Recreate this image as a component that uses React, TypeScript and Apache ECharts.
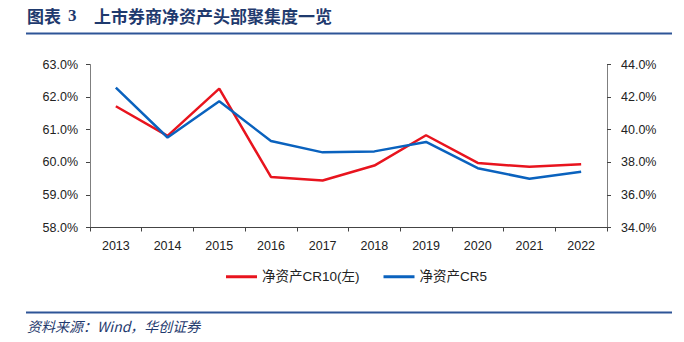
import React, { useEffect, useRef } from "react";
import * as echarts from "echarts";

const years = ["2013", "2014", "2015", "2016", "2017", "2018", "2019", "2020", "2021", "2022"];
const cr10 = [61.72, 60.81, 62.26, 59.55, 59.44, 59.9, 60.83, 59.98, 59.86, 59.94];
const cr5 = [42.58, 39.52, 41.74, 39.31, 38.61, 38.67, 39.25, 37.64, 36.99, 37.42];
const seriesNames = ["净资产CR10(左)", "净资产CR5"];
const titleLabel = "图表";
const titleNumber = "3";
const titleText = "上市券商净资产头部聚集度一览";
const sourceText = "资料来源：Wind，华创证券";

export default function App() {
  const ref = useRef<HTMLDivElement>(null);
  useEffect(() => {
    const chart = echarts.init(ref.current!, null, { renderer: "svg" });
    const navy = "#1F3A6E";
    const lineBlue = "#2E5597";
    const axisColor = "#7F7F7F";
    const labelFont = { color: "#222", fontSize: 12.5, fontFamily: "Liberation Sans, Arial, sans-serif" };
    chart.setOption({
      animation: false,
      backgroundColor: "#fff",
      grid: { left: 90, right: 77, top: 64.5, bottom: 114.5 },
      legend: {
        left: 226,
        top: 270,
        padding: 0,
        itemWidth: 31,
        itemHeight: 3,
        itemGap: 24,
        icon: "rect",
        textStyle: { color: "#222", fontSize: 13.5, fontFamily: "Liberation Sans, Noto Sans CJK SC, sans-serif" },
        data: seriesNames,
      },
      xAxis: {
        type: "category",
        data: years,
        boundaryGap: true,
        axisLine: { lineStyle: { color: "#444", width: 1 } },
        axisTick: { show: true, inside: false, length: 4, alignWithLabel: false, lineStyle: { color: "#444" } },
        axisLabel: { ...labelFont, margin: 12 },
      },
      yAxis: [
        {
          type: "value",
          min: 58,
          max: 63,
          interval: 1,
          position: "left",
          axisLine: { show: true, lineStyle: { color: axisColor } },
          axisTick: { show: true, length: 4, lineStyle: { color: "#444" } },
          splitLine: { show: false },
          axisLabel: { ...labelFont, margin: 12, formatter: (v: number) => v.toFixed(1) + "%" },
        },
        {
          type: "value",
          min: 34,
          max: 44,
          interval: 2,
          position: "right",
          axisLine: { show: true, lineStyle: { color: axisColor } },
          axisTick: { show: true, length: 4, lineStyle: { color: "#444" } },
          splitLine: { show: false },
          axisLabel: { ...labelFont, margin: 14, formatter: (v: number) => v.toFixed(1) + "%" },
        },
      ],
      series: [
        {
          name: seriesNames[0],
          type: "line",
          yAxisIndex: 0,
          data: cr10,
          symbol: "none",
          lineStyle: { color: "#E8141E", width: 2.5 },
          itemStyle: { color: "#E8141E" },
        },
        {
          name: seriesNames[1],
          type: "line",
          yAxisIndex: 1,
          data: cr5,
          symbol: "none",
          lineStyle: { color: "#0A62BE", width: 2.5 },
          itemStyle: { color: "#0A62BE" },
        },
      ],
      graphic: [
        {
          type: "text",
          left: 27,
          top: 7,
          style: { text: titleLabel, fill: navy, font: "bold 17px 'Noto Sans CJK SC', sans-serif" },
        },
        {
          type: "text",
          left: 68,
          top: 7,
          style: { text: titleNumber, fill: navy, font: "bold 17px 'Liberation Serif', serif" },
        },
        {
          type: "text",
          left: 94,
          top: 7,
          style: { text: titleText, fill: navy, font: "bold 17px 'Noto Sans CJK SC', sans-serif" },
        },
        {
          type: "line",
          shape: { x1: 26, y1: 33.5, x2: 672, y2: 33.5 },
          style: { stroke: lineBlue, lineWidth: 2 },
        },
        {
          type: "line",
          shape: { x1: 26, y1: 312.5, x2: 672, y2: 312.5 },
          style: { stroke: lineBlue, lineWidth: 2 },
        },
        {
          type: "text",
          left: 27,
          top: 319,
          style: { text: sourceText, fill: navy, font: "italic 14px 'Noto Sans CJK SC', serif" },
        },
      ],
    });
    return () => chart.dispose();
  }, []);
  return (
    <div
      ref={ref}
      style={{ position: "fixed", left: 0, top: 0, width: 684, height: 342 }}
    />
  );
}
